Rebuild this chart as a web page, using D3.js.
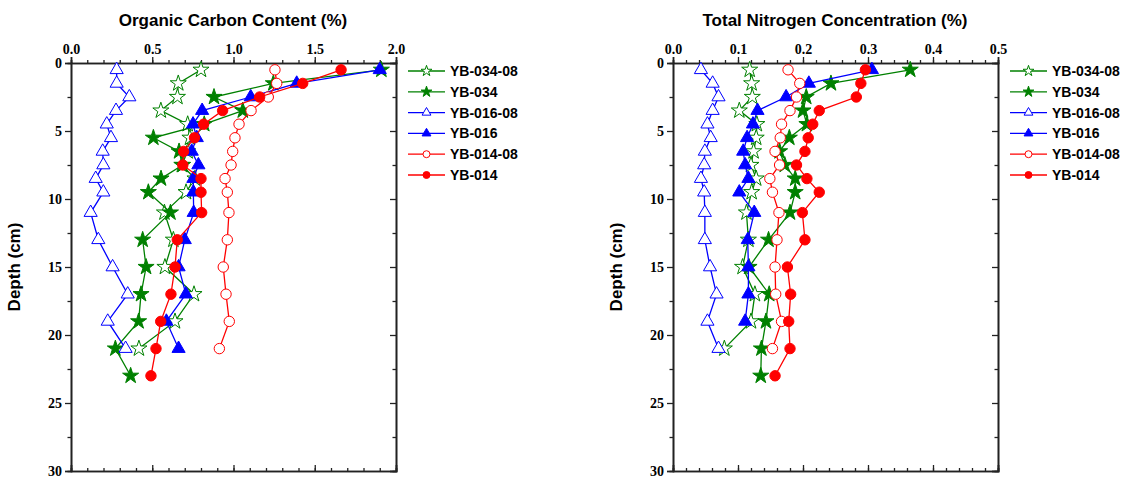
<!DOCTYPE html>
<html>
<head>
<meta charset="utf-8">
<script src="https://cdn.jsdelivr.net/npm/d3@7/dist/d3.min.js"></script>
<style>
  body { margin: 0; background: #fff; }
  svg { display: block; }
</style>
</head>
<body>
<svg id="chart" width="1135" height="481"></svg>
<script>
// Depths (cm) shared by all cores
const depths = [0.5, 1.5, 2.5, 3.5, 4.5, 5.5, 6.5, 7.5, 8.5, 9.5, 11, 13, 15, 17, 19, 21, 23];

const seriesNames = ['YB-034-08', 'YB-034', 'YB-016-08', 'YB-016', 'YB-014-08', 'YB-014'];

// Organic carbon (%)
const ocYB034_08 = [0.80, 0.66, 0.655, 0.553, 0.718, 0.732, 0.718, 0.682, 0.763, 0.708, 0.575, 0.630, 0.578, 0.757, 0.640, 0.418];
const ocYB034 = [1.91, 1.245, 0.88, 1.057, 0.82, 0.507, 0.665, 0.687, 0.554, 0.476, 0.612, 0.441, 0.462, 0.431, 0.416, 0.273, 0.367];
const ocYB016_08 = [0.281, 0.281, 0.359, 0.277, 0.220, 0.246, 0.195, 0.199, 0.152, 0.199, 0.121, 0.168, 0.256, 0.349, 0.226, 0.336];
const ocYB016 = [1.90, 1.389, 1.106, 0.807, 0.751, 0.774, 0.743, 0.784, 0.753, 0.753, 0.755, 0.700, 0.662, 0.707, 0.587, 0.662];
const ocYB014_08 = [1.255, 1.266, 1.214, 1.108, 1.034, 1.009, 0.995, 0.985, 0.948, 0.962, 0.972, 0.962, 0.937, 0.954, 0.974, 0.913];
const ocYB014 = [1.662, 1.426, 1.161, 0.933, 0.816, 0.76, 0.693, 0.688, 0.80, 0.80, 0.804, 0.654, 0.64, 0.615, 0.552, 0.523, 0.492];

// Total nitrogen (%)
const tnYB034_08 = [0.118, 0.121, 0.122, 0.102, 0.129, 0.128, 0.124, 0.120, 0.128, 0.121, 0.113, 0.116, 0.107, 0.126, 0.120, 0.079];
const tnYB034 = [0.365, 0.243, 0.205, 0.200, 0.206, 0.179, 0.164, 0.172, 0.188, 0.188, 0.180, 0.147, 0.117, 0.148, 0.143, 0.136, 0.135];
const tnYB016_08 = [0.043, 0.061, 0.070, 0.061, 0.053, 0.058, 0.049, 0.048, 0.043, 0.048, 0.049, 0.049, 0.057, 0.067, 0.053, 0.070];
const tnYB016 = [0.306, 0.209, 0.174, 0.130, 0.123, 0.114, 0.108, 0.111, 0.116, 0.102, 0.125, 0.115, 0.116, 0.116, 0.111];
const tnYB014_08 = [0.177, 0.195, 0.190, 0.180, 0.167, 0.165, 0.157, 0.164, 0.149, 0.153, 0.163, 0.160, 0.157, 0.158, 0.167, 0.153];
const tnYB014 = [0.296, 0.289, 0.282, 0.225, 0.215, 0.208, 0.203, 0.190, 0.206, 0.225, 0.199, 0.203, 0.176, 0.181, 0.178, 0.180, 0.157];

const styles = [
  { color: '#008000', symbol: d3.symbolStar, size: 80, open: true },
  { color: '#008000', symbol: d3.symbolStar, size: 80, open: false },
  { color: '#0000ff', symbol: d3.symbolTriangle, size: 75, open: true },
  { color: '#0000ff', symbol: d3.symbolTriangle, size: 75, open: false },
  { color: '#ff0000', symbol: d3.symbolCircle, size: 85, open: true },
  { color: '#ff0000', symbol: d3.symbolCircle, size: 85, open: false },
];

const svg = d3.select('#chart');
const tickFont = '"Liberation Serif", "Times New Roman", serif';
const sansFont = '"Liberation Sans", Arial, sans-serif';

function steps(max, step) {
  let n = Math.round(max / step);
  return d3.range(n + 1).map(i => +(i * step).toFixed(4));
}

function drawPanel(opt) {
  const x = d3.scaleLinear().domain([0, opt.xmax]).range([opt.left, opt.left + 325]);
  const y = d3.scaleLinear().domain([0, 30]).range([63, 471]);
  const g = svg.append('g');
  const major = steps(opt.xmax, opt.major);
  const minor = steps(opt.xmax, opt.minor);

  // frame axes
  const top = d3.axisTop(x).tickValues(major).tickSize(6).tickFormat(d3.format('.1f'));
  const topMinor = d3.axisTop(x).tickValues(minor).tickSize(3).tickFormat('');
  const bottom = d3.axisBottom(x).tickValues(major).tickSize(-6).tickFormat('');
  const bottomMinor = d3.axisBottom(x).tickValues(minor).tickSize(-3).tickFormat('');
  const left = d3.axisLeft(y).tickValues(d3.range(0, 31, 5)).tickSize(6);
  const leftMinor = d3.axisLeft(y).tickValues(d3.range(2.5, 30, 5)).tickSize(3.5).tickFormat('');
  const right = d3.axisRight(y).tickValues(d3.range(0, 31, 5)).tickSize(-6).tickFormat('');
  const rightMinor = d3.axisRight(y).tickValues(d3.range(2.5, 30, 5)).tickSize(-3.5).tickFormat('');

  const axes = [
    [top, 'translate(0,63)'], [topMinor, 'translate(0,63)'],
    [bottom, 'translate(0,471)'], [bottomMinor, 'translate(0,471)'],
    [left, `translate(${opt.left},0)`], [leftMinor, `translate(${opt.left},0)`],
    [right, `translate(${opt.left + 325},0)`], [rightMinor, `translate(${opt.left + 325},0)`],
  ];
  axes.forEach(([ax, tr]) => {
    const a = g.append('g').attr('transform', tr).call(ax);
    a.select('.domain').attr('stroke', '#222').attr('stroke-width', 1.6);
    a.selectAll('.tick line').attr('stroke', '#222').attr('stroke-width', 1.3);
    a.selectAll('.tick text')
      .attr('font-family', tickFont).attr('font-weight', 'bold').attr('font-size', 14).attr('fill', '#000');
  });

  // title and y label
  g.append('text')
    .attr('x', opt.left + 162).attr('y', 26)
    .attr('text-anchor', 'middle')
    .attr('font-family', sansFont).attr('font-weight', 'bold').attr('font-size', 17)
    .text(opt.title);
  g.append('text')
    .attr('transform', `translate(${opt.left - 51},267) rotate(-90)`)
    .attr('text-anchor', 'middle')
    .attr('font-family', sansFont).attr('font-weight', 'bold').attr('font-size', 17)
    .text('Depth (cm)');

  // series
  const line = d3.line().x(d => x(d[0])).y(d => y(d[1]));
  opt.series.forEach((vals, i) => {
    const st = styles[i];
    const pts = vals.map((v, k) => [v, depths[k]]);
    g.append('path')
      .attr('d', line(pts))
      .attr('fill', 'none')
      .attr('stroke', st.color)
      .attr('stroke-width', 1.3);
    g.append('g').selectAll('path')
      .data(pts)
      .enter()
      .append('path')
      .attr('transform', d => `translate(${x(d[0])},${y(d[1])})`)
      .attr('d', d3.symbol().type(st.symbol).size(st.size))
      .attr('fill', st.open ? '#fff' : st.color)
      .attr('stroke', st.color)
      .attr('stroke-width', 1);
  });

  // legend
  const lx = opt.left + 337;
  seriesNames.forEach((name, i) => {
    const st = styles[i];
    const ly = 71 + i * 20.8;
    g.append('line')
      .attr('x1', lx).attr('x2', lx + 37).attr('y1', ly).attr('y2', ly)
      .attr('stroke', st.color).attr('stroke-width', 1.3);
    g.append('path')
      .attr('transform', `translate(${lx + 18.5},${ly})`)
      .attr('d', d3.symbol().type(st.symbol).size(st.size * 0.45))
      .attr('fill', st.open ? '#fff' : st.color)
      .attr('stroke', st.color)
      .attr('stroke-width', 1);
    g.append('text')
      .attr('x', lx + 42).attr('y', ly + 5)
      .attr('font-family', sansFont).attr('font-weight', 'bold').attr('font-size', 14)
      .text(name);
  });
}

drawPanel({
  left: 71, xmax: 2.0, major: 0.5, minor: 0.1, title: 'Organic Carbon Content (%)',
  series: [ocYB034_08, ocYB034, ocYB016_08, ocYB016, ocYB014_08, ocYB014],
});
drawPanel({
  left: 673, xmax: 0.5, major: 0.1, minor: 0.02, title: 'Total Nitrogen Concentration (%)',
  series: [tnYB034_08, tnYB034, tnYB016_08, tnYB016, tnYB014_08, tnYB014],
});
</script>
</body>
</html>
